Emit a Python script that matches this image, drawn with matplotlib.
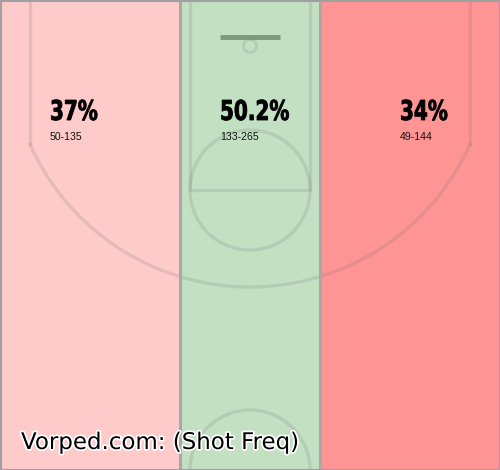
import matplotlib.pyplot as plt
import matplotlib.patches as mpatches
import matplotlib.patheffects as pe
from matplotlib.textpath import TextPath
from matplotlib.font_manager import FontProperties
from matplotlib.transforms import Affine2D
import numpy as np

##data
zones = ["left", "middle", "right"]
zone_edges = [0, 180, 320, 500]
zone_colors = ["#ffcaca", "#c3e0c3", "#ff9494"]
pct_labels = ["37%", "50.2%", "34%"]
made_att = ["50-135", "133-265", "49-144"]
label_x = [50, 220, 400]

##figure
fig = plt.figure(figsize=(5, 4.7), dpi=100)
ax = fig.add_axes([0, 0, 1, 1])
ax.set_xlim(0, 500)
ax.set_ylim(470, 0)
ax.axis("off")

#zones
for i in range(len(zones)):
    ax.add_patch(mpatches.Rectangle((zone_edges[i], 0), zone_edges[i+1] - zone_edges[i], 470,
                                    facecolor=zone_colors[i], edgecolor="none", zorder=1))
for xe in zone_edges[1:-1]:
    ax.plot([xe, xe], [0, 470], color="#a8a8a8", lw=2.2, zorder=3)

#court lines
lc = (0.45, 0.45, 0.45, 0.18)
lw = 2.4
r3 = 241
cx, cy = 250, 46
yc = cy + np.sqrt(r3**2 - 220**2)
ax.plot([30, 30], [0, yc], color=lc, lw=lw, zorder=2)
ax.plot([470, 470], [0, yc], color=lc, lw=lw, zorder=2)
t = np.linspace(np.arcsin((yc - cy) / r3), np.pi - np.arcsin((yc - cy) / r3), 200)
ax.plot(cx + r3 * np.cos(t), cy + r3 * np.sin(t), color=lc, lw=lw, zorder=2)

#lane
ax.plot([190, 190, 310, 310], [0, 190, 190, 0], color=lc, lw=lw, zorder=2)
ax.add_patch(mpatches.Circle((250, 190), 60, fill=False, edgecolor=lc, lw=lw, zorder=2))
ax.add_patch(mpatches.Circle((250, 470), 60, fill=False, edgecolor=lc, lw=lw, zorder=2))

#rim and backboard
ax.plot([220, 280], [37, 37], color="#7a9a7a", lw=3.5, solid_capstyle="butt", zorder=4)
ax.add_patch(mpatches.Circle((250, 46), 6.5, fill=False, edgecolor=lc, lw=2, zorder=2))

#labels - condensed bold, squeezed by hand
fp = FontProperties(family="DejaVu Sans", weight="bold")
for i in range(len(zones)):
    tp = TextPath((0, 0), pct_labels[i], size=1, prop=fp)
    tr = Affine2D().scale(20, -27.4).translate(label_x[i], 120) + ax.transData
    ax.add_patch(mpatches.PathPatch(tp, facecolor="black", edgecolor="black", lw=0.6,
                                    transform=tr, zorder=5))
    ax.text(label_x[i], 140, made_att[i], fontsize=7.6, family="Liberation Sans",
            color="#111111", ha="left", va="baseline", zorder=5)

ax.text(21, 449, "Vorped.com: (Shot Freq)", fontsize=16.5, family="DejaVu Sans",
        color="black", ha="left", va="baseline", zorder=6,
        path_effects=[pe.withStroke(linewidth=2.5, foreground="white")])

#border
ax.add_patch(mpatches.Rectangle((0.5, 0.5), 499, 469, fill=False, edgecolor="#a0a0a0", lw=1.5, zorder=7))

fig.savefig("out.png", dpi=100)
